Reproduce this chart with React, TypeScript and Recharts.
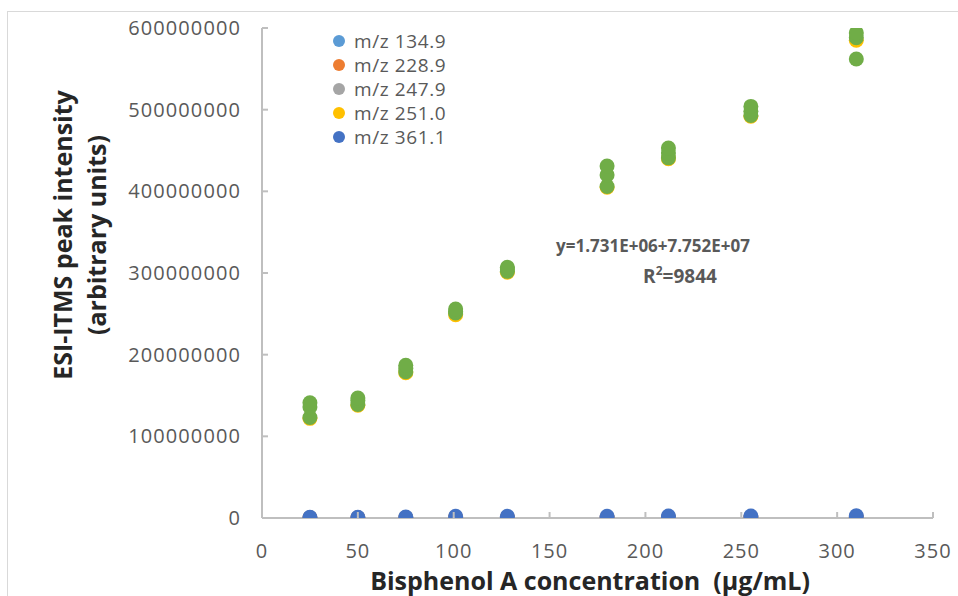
import React from 'react';
import { ScatterChart, Scatter, XAxis, YAxis, Label } from 'recharts';

// Bisphenol A concentration (µg/mL)
const concentrations = [25, 50, 75, 101, 128, 180, 212, 255, 310];

// Peak intensities in millions (arbitrary units)
const mz1349 = [0.3, 0.3, 0.4, 0.5, 0.5, 0.6, 0.6, 0.7, 0.8];
const mz2289 = [0.2, 0.2, 0.3, 0.4, 0.4, 0.5, 0.5, 0.6, 0.6];
const mz2479 = [-0.6, -0.6, -0.5, -0.4, -0.4, -0.3, -0.3, -0.2, -0.2];
const mz2510 = [122, 138, 178, 249, 301, 405, 440, 492, 585];
const mz3611 = [0.8, 0.9, 1.2, 2.0, 2.2, 2.0, 2.3, 2.4, 2.8];
// unlabeled (green) series, three replicates
const greenRepA = [141, 147, 187, 256, 307, 431, 453, 504, 594];
const greenRepB = [136, 144, 183, 253, 305, 420, 447, 498, 588];
const greenRepC = [123, 139, 179, 251, 302, 406, 441, 493, 562];

const xTicks = [0, 50, 100, 150, 200, 250, 300, 350];
const yTicks = [0, 100000000, 200000000, 300000000, 400000000, 500000000, 600000000];

const equationText = 'y=1.731E+06+7.752E+07';
const r2Value = '9844';

const toPoints = (vals: number[]) =>
  vals.map((v, i) => ({ x: concentrations[i], y: v * 1e6 }));

const series = [
  { name: 'm/z 134.9', color: '#5B9BD5', data: toPoints(mz1349), legend: true },
  { name: 'm/z 228.9', color: '#ED7D31', data: toPoints(mz2289), legend: true },
  { name: 'm/z 247.9', color: '#A5A5A5', data: toPoints(mz2479), legend: true },
  { name: 'm/z 251.0', color: '#FFC000', data: toPoints(mz2510), legend: true },
  { name: 'm/z 361.1', color: '#4472C4', data: toPoints(mz3611), legend: true },
  {
    name: 'unlabeled',
    color: '#70AD47',
    data: [...toPoints(greenRepC), ...toPoints(greenRepB), ...toPoints(greenRepA)],
    legend: false,
  },
];

const AXIS = '#BFBFBF';
const TXT = '#595959';
const FONT = '"Open Sans", sans-serif';

const XTick = (props: any) => {
  const { x, y, payload } = props;
  return (
    <g>
      <line x1={x} x2={x} y1={y} y2={y - 6} stroke={AXIS} strokeWidth={2} />
      <text
        x={x}
        y={y + 40}
        textAnchor="middle"
        fill={TXT}
        fontSize={20}
        letterSpacing={1}
        fontFamily={FONT}
      >
        {payload.value}
      </text>
    </g>
  );
};

const YTick = (props: any) => {
  const { x, y, payload } = props;
  return (
    <g>
      <line x1={x} x2={x + 6} y1={y} y2={y} stroke={AXIS} strokeWidth={2} />
      <text
        x={x - 21}
        y={y + 7}
        textAnchor="end"
        fill={TXT}
        fontSize={20}
        letterSpacing={1.1}
        fontFamily={FONT}
      >
        {payload.value}
      </text>
    </g>
  );
};

const LegendBox = () => (
  <div
    style={{
      position: 'absolute',
      left: 332,
      top: 29,
      fontFamily: FONT,
      fontSize: 19,
      letterSpacing: 0.6,
      color: TXT,
      lineHeight: '24px',
    }}
  >
    {series
      .filter((s) => s.legend)
      .map((s) => (
        <div key={s.name} style={{ display: 'flex', alignItems: 'center', height: 24 }}>
          <svg width={14} height={14} style={{ marginRight: 8 }}>
            <circle cx={7} cy={7} r={6} fill={s.color} />
          </svg>
          <span>{s.name}</span>
        </div>
      ))}
  </div>
);

const YTitle = () => (
  <g>
    <text
      x={62}
      y={235}
      transform="rotate(-90 62 235)"
      textAnchor="middle"
      dominantBaseline="central"
      fontSize={25}
      fontWeight="bold"
      fontFamily={FONT}
      fill="#262626"
    >
      ESI-ITMS peak intensity
    </text>
    <text
      x={96}
      y={235}
      transform="rotate(-90 96 235)"
      textAnchor="middle"
      dominantBaseline="central"
      fontSize={25}
      fontWeight="bold"
      fontFamily={FONT}
      fill="#262626"
    >
      (arbitrary units)
    </text>
  </g>
);

const XTitle = () => (
  <text
    x={590}
    y={590}
    textAnchor="middle"
    fontSize={25}
    fontWeight="bold"
    fontFamily={FONT}
    fill="#262626"
    style={{ whiteSpace: 'pre' }}
  >
    {'Bisphenol A concentration  (\u00B5g/mL)'}
  </text>
);

const Equation = () => (
  <g fontFamily={FONT} fontWeight="bold" fill={TXT}>
    <text x={653} y={252} textAnchor="middle" fontSize={17}>
      {equationText}
    </text>
    <text x={680} y={283} textAnchor="middle" fontSize={19}>
      R<tspan dy={-8} fontSize={12}>2</tspan>
      <tspan dy={8}>={r2Value}</tspan>
    </text>
  </g>
);

export default function App() {
  return (
    <div
      style={{
        position: 'absolute',
        left: 0,
        top: 0,
        width: 958,
        height: 596,
        overflow: 'hidden',
        background: '#fff',
      }}
    >
      <div
        style={{
          position: 'absolute',
          left: 7,
          top: 11,
          width: 1000,
          height: 700,
          border: '1px solid #D9D9D9',
        }}
      />
      <div style={{ position: 'absolute', left: 0, top: 0 }}>
        <ScatterChart width={958} height={596} margin={{ top: 28, right: 25, bottom: 0, left: 0 }}>
          <XAxis
            type="number"
            dataKey="x"
            domain={[0, 350]}
            ticks={xTicks}
            interval={0}
            height={78}
            tickSize={0}
            tickMargin={0}
            tickLine={false}
            axisLine={{ stroke: AXIS, strokeWidth: 2 }}
            tick={<XTick />}
            allowDataOverflow
          >
            <Label content={<XTitle />} />
          </XAxis>
          <YAxis
            type="number"
            dataKey="y"
            domain={[0, 600000000]}
            ticks={yTicks}
            interval={0}
            width={262}
            tickSize={0}
            tickMargin={0}
            tickLine={false}
            axisLine={{ stroke: AXIS, strokeWidth: 2 }}
            tick={<YTick />}
            allowDataOverflow
          >
            <Label content={<YTitle />} />
          </YAxis>
          {series.map((s) => (
            <Scatter
              key={s.name}
              name={s.name}
              data={s.data}
              fill={s.color}
              legendType={s.legend ? 'circle' : 'none'}
              isAnimationActive={false}
              shape={(p: any) => <circle cx={p.cx} cy={p.cy} r={7.5} fill={s.color} />}
            />
          ))}
        </ScatterChart>
      </div>
      <LegendBox />
      <svg
        width={958}
        height={596}
        style={{ position: 'absolute', left: 0, top: 0, pointerEvents: 'none' }}
      >
        <Equation />
      </svg>
    </div>
  );
}
